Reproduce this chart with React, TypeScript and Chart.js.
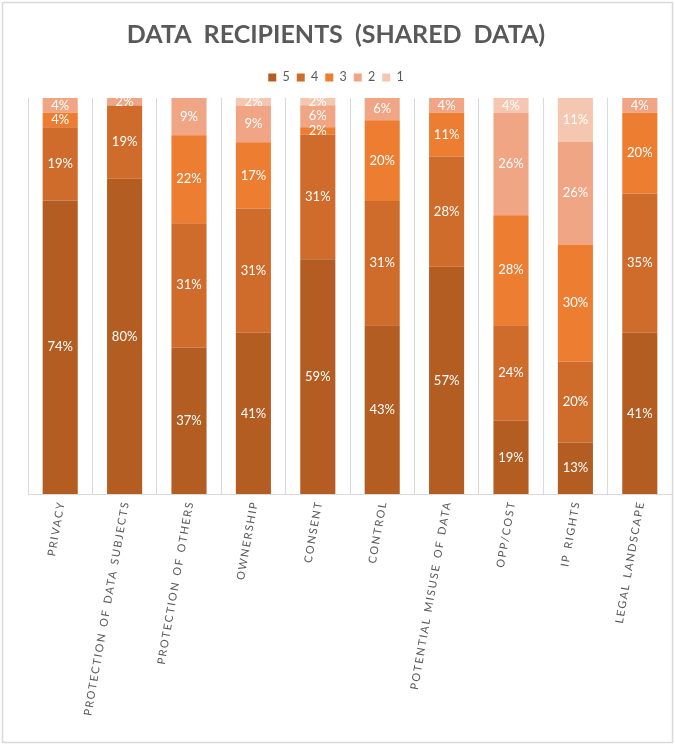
import React, { useEffect, useRef } from 'react';
import { Chart, registerables } from 'chart.js';
Chart.register(...registerables);

const chartTitle = 'DATA RECIPIENTS (SHARED DATA)';
const categories = [
  'PRIVACY',
  'PROTECTION OF DATA SUBJECTS',
  'PROTECTION OF OTHERS',
  'OWNERSHIP',
  'CONSENT',
  'CONTROL',
  'POTENTIAL MISUSE OF DATA',
  'OPP/COST',
  'IP RIGHTS',
  'LEGAL LANDSCAPE',
];
const seriesLabels = ['5', '4', '3', '2', '1'];
const rating5 = [74.1, 79.6, 37.0, 40.7, 59.3, 42.6, 57.4, 18.5, 13.0, 40.7];
const rating4 = [18.5, 18.5, 31.4, 31.4, 31.4, 31.4, 27.8, 24.1, 20.4, 35.2];
const rating3 = [3.7, null, 22.2, 16.7, 1.9, 20.4, 11.1, 27.8, 29.6, 20.4];
const rating2 = [3.7, 1.9, 9.4, 9.3, 5.6, 5.6, 3.7, 25.9, 25.9, 3.7];
const rating1 = [null, null, null, 1.9, 1.8, null, null, 3.7, 11.1, null];
const seriesValues = [rating5, rating4, rating3, rating2, rating1];
const seriesColors = ['#B35D22', '#D06C2B', '#EC7D31', '#F0A584', '#F5C7B0'];

const FONT = 'Lato, "Open Sans", sans-serif';
const TEXT_GRAY = '#595959';

const customPlugin = {
  id: 'custom',
  beforeLayout(chart: any) {
    const lg = chart.legend;
    if (lg && !lg.__patched) {
      const orig = lg.fit;
      lg.fit = function () {
        orig.call(this);
        this.height += 4.3;
      };
      lg.__patched = true;
    }
  },
  beforeDraw(chart: any) {
    const ctx = chart.ctx;
    ctx.save();
    ctx.strokeStyle = '#d9d9d9';
    ctx.lineWidth = 1.5;
    ctx.strokeRect(2.5, 2.5, 670, 740);
    ctx.restore();
    ctx.letterSpacing = '0px';
    ctx.wordSpacing = '6px';
  },
  afterDatasetsDraw(chart: any) {
    const ctx = chart.ctx;
    ctx.save();
    ctx.letterSpacing = '0px';
    ctx.wordSpacing = '0px';
    ctx.font = `13px ${FONT}`;
    ctx.fillStyle = '#ffffff';
    ctx.textAlign = 'center';
    ctx.textBaseline = 'middle';
    chart.data.datasets.forEach((ds: any, di: number) => {
      const meta = chart.getDatasetMeta(di);
      meta.data.forEach((bar: any, i: number) => {
        const v = ds.data[i];
        if (v == null || v <= 0) return;
        const y = (bar.y + bar.base) / 2;
        ctx.fillText(Math.round(v) + '%', bar.x, y);
      });
    });
    ctx.restore();
  },
  afterDraw(chart: any) {
    const ctx = chart.ctx;
    const xs = chart.scales.x;
    const bottom = chart.chartArea.bottom;
    ctx.save();
    ctx.font = `11px ${FONT}`;
    ctx.fillStyle = TEXT_GRAY;
    ctx.letterSpacing = '1.6px';
    ctx.wordSpacing = '1px';
    ctx.textAlign = 'right';
    ctx.textBaseline = 'middle';
    categories.forEach((c, i) => {
      const x = xs.getPixelForValue(i);
      ctx.save();
      ctx.translate(x + 1, bottom + 7);
      ctx.rotate((-80 * Math.PI) / 180);
      ctx.fillText(c, 0, 0);
      ctx.restore();
    });
    ctx.restore();
  },
};

export default function App() {
  const ref = useRef<HTMLCanvasElement | null>(null);
  useEffect(() => {
    if (!ref.current) return;
    const chart = new Chart(ref.current, {
      type: 'bar',
      data: {
        labels: categories,
        datasets: seriesLabels.map((label, k) => ({
          label,
          data: seriesValues[k],
          backgroundColor: seriesColors[k],
          borderWidth: 0,
          barPercentage: 0.545,
          categoryPercentage: 1,
        })),
      },
      options: {
        responsive: false,
        animation: false,
        devicePixelRatio: 1,
        layout: { padding: { left: 0, right: 3, top: 0, bottom: 0 } },
        plugins: {
          title: {
            display: true,
            text: chartTitle,
            color: TEXT_GRAY,
            font: { family: FONT, size: 25, weight: 'bold', lineHeight: 1.2 },
            padding: { top: 19.5, bottom: 14.7 },
          },
          legend: {
            display: true,
            position: 'top',
            labels: {
              color: TEXT_GRAY,
              font: { family: FONT, size: 12.5 },
              boxWidth: 8,
              boxHeight: 8,
              padding: 7,
            },
          },
          tooltip: { enabled: false },
        },
        scales: {
          x: {
            stacked: true,
            grid: { display: true, color: '#d9d9d9', drawTicks: false, offset: true },
            border: { display: true, color: '#d9d9d9' },
            ticks: { display: false },
            afterFit: (scale: any) => {
              scale.height = 252;
            },
          },
          y: {
            stacked: true,
            display: true,
            min: 0,
            max: 100,
            grid: { display: false, drawTicks: false },
            border: { display: false },
            ticks: { display: false },
            afterFit: (scale: any) => {
              scale.width = 28;
            },
          },
        },
      },
      plugins: [customPlugin],
    } as any);
    return () => chart.destroy();
  }, []);
  return (
    <div style={{ position: 'absolute', left: 0, top: 0, width: 675, height: 746, background: '#fff' }}>
      <canvas ref={ref} width={675} height={746} style={{ width: 675, height: 746, display: 'block' }} />
    </div>
  );
}
